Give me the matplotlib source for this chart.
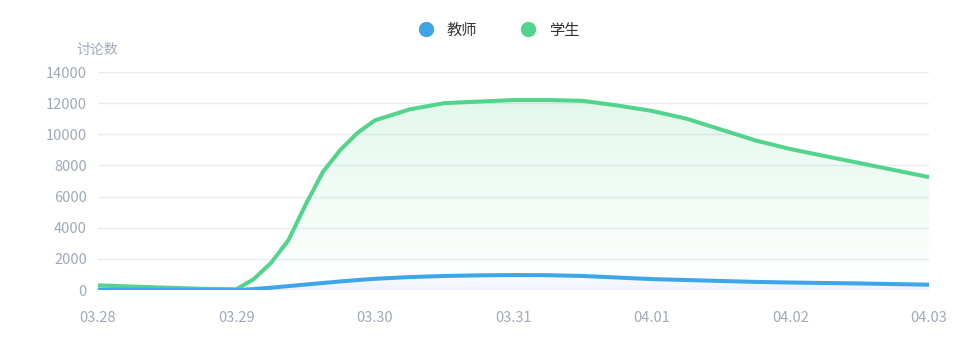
import numpy as np
import matplotlib.pyplot as plt
from matplotlib.lines import Line2D

plt.rcParams['font.family'] = ['Noto Sans CJK SC', 'DejaVu Sans']

# data: hours since 03.28 00:00
dates = ['03.28', '03.29', '03.30', '03.31', '04.01', '04.02', '04.03']
hours = [0, 6, 12, 18, 24, 27, 30, 33, 36, 39, 42, 45, 48,
         54, 60, 66, 72, 78, 84, 90, 96, 102, 108, 114, 120, 126, 132, 138, 144]
teacher = [30, 20, 10, 5, 0, 60, 150, 250, 350, 450, 550, 640, 720,
           830, 900, 940, 960, 950, 900, 800, 700, 640, 580, 520, 480, 450, 420, 380, 340]
student = [300, 220, 150, 80, 50, 700, 1750, 3200, 5500, 7600, 9000, 10100, 10900,
           11600, 12000, 12100, 12200, 12200, 12150, 11850, 11500, 11000, 10300, 9600,
           9050, 8600, 8150, 7700, 7250]
yticks = [0, 2000, 4000, 6000, 8000, 10000, 12000, 14000]

x = np.array(hours)
green = '#52d48c'
blue = '#3ea5e9'
grey = '#a0aab5'

fig = plt.figure(figsize=(9.78, 3.6), dpi=100)
ax = fig.add_axes([98/978, 1-290/360, (929-98)/978, (290-72)/360])

for yv in yticks:
    ax.axhline(yv, color='#e5edf2', lw=1, zorder=0)

def grad_fill(ys, rgb, a_top, a_bot, top):
    poly = ax.fill_between(x, ys, 0, color='none', lw=0)
    grad = np.zeros((100, 1, 4))
    grad[:, 0, :3] = rgb
    grad[:, 0, 3] = np.linspace(a_top, a_bot, 100)
    im = ax.imshow(grad, aspect='auto', extent=[x[0], x[-1], 0, top],
                   origin='upper', zorder=1)
    im.set_clip_path(poly.get_paths()[0], transform=ax.transData)

grad_fill(student, (0.32, 0.83, 0.55), 0.16, 0.0, max(student))
grad_fill(teacher, (0.45, 0.55, 0.95), 0.0, 0.12, max(teacher))

ax.plot(x, student, color=green, lw=2.9, zorder=3, solid_capstyle='butt', solid_joinstyle='round')
ax.plot(x, teacher, color=blue, lw=2.9, zorder=4, solid_capstyle='butt', solid_joinstyle='round')

ax.set_xlim(0, 144)
ax.set_ylim(0, 14000)
ax.set_xticks(np.arange(0, 145, 24))
ax.set_xticklabels(dates)
ax.set_yticks(yticks)
for s in ax.spines.values():
    s.set_visible(False)
ax.tick_params(length=0, colors=grey, labelsize=10.5)
ax.tick_params(axis='x', pad=15)
ax.tick_params(axis='y', pad=8)

fig.text(97/978, 1-50/360, '讨论数', color=grey, fontsize=10, ha='center', va='center')

handles = [Line2D([], [], ls='none', marker='o', markersize=10, color=blue),
           Line2D([], [], ls='none', marker='o', markersize=10, color=green)]
fig.legend(handles, ['教师', '学生'], loc='center', bbox_to_anchor=(495/978, 1-30/360),
           ncol=2, frameon=False, fontsize=11, handletextpad=0.4, columnspacing=2.3,
           labelcolor='#333333')

fig.savefig('out.png', dpi=100)
